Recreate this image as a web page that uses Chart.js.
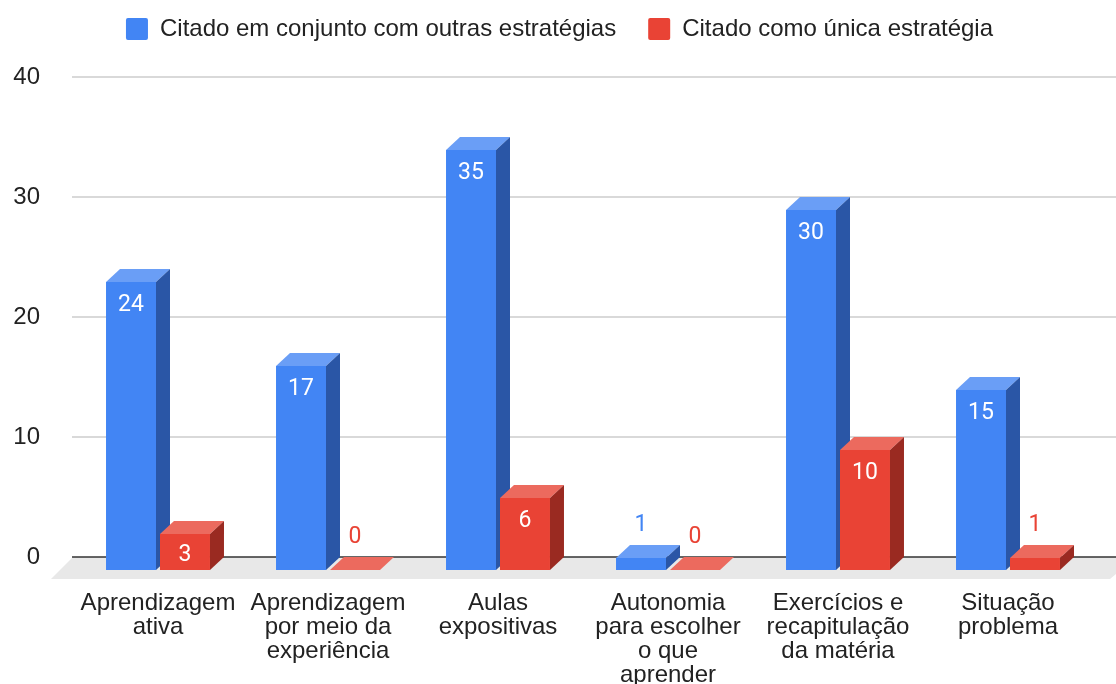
<!DOCTYPE html>
<html>
<head>
<meta charset="utf-8">
<script src="https://cdn.jsdelivr.net/npm/chart.js@4.4.1/dist/chart.umd.min.js"></script>
<style>
  html, body { margin: 0; padding: 0; background: #fff; }
</style>
</head>
<body>
<canvas id="chart" width="1116" height="684"></canvas>
<script>
// data
categories = [
	["Aprendizagem", "ativa"],
	["Aprendizagem", "por meio da", "experiência"],
	["Aulas", "expositivas"],
	["Autonomia", "para escolher", "o que", "aprender"],
	["Exercícios e", "recapitulação", "da matéria"],
	["Situação", "problema"]
]
seriesNames = ["Citado em conjunto com outras estratégias", "Citado como única estratégia"]
conjunto = [24, 17, 35, 1, 30, 15]
unica = [3, 0, 6, 0, 10, 1]
yTicks = [0, 10, 20, 30, 40]

// look of the 3d boxes
faceColors = [
	{front: "#4285f4", top: "#6a9ef6", side: "#2a56a6"},
	{front: "#e94335", top: "#ec6a5e", side: "#9a2a21"}
]
DX = 14   // depth to the right
DY = 13   // depth upwards

function box(ctx, l, r, t, b, c) {
	// front
	ctx.fillStyle = c.front
	ctx.fillRect(l, t, r - l, b - t)
	// top
	ctx.fillStyle = c.top
	ctx.beginPath()
	ctx.moveTo(l, t); ctx.lineTo(l + DX, t - DY); ctx.lineTo(r + DX, t - DY); ctx.lineTo(r, t)
	ctx.closePath(); ctx.fill()
	// side
	if (b > t) {
		ctx.fillStyle = c.side
		ctx.beginPath()
		ctx.moveTo(r, t); ctx.lineTo(r + DX, t - DY); ctx.lineTo(r + DX, b - DY); ctx.lineTo(r, b)
		ctx.closePath(); ctx.fill()
	}
}

var draw3d = {
	id: "draw3d",
	beforeDatasetsDraw(chart) {
		var ctx = chart.ctx
		var y = chart.scales.y
		var area = chart.chartArea
		ctx.save()

		// grid on the back wall
		ctx.strokeStyle = "#cccccc"
		ctx.lineWidth = 1.5
		yTicks.forEach(function (v) {
			if (v === 0) return
			var py = y.getPixelForValue(v)
			ctx.beginPath(); ctx.moveTo(area.left - 1, py); ctx.lineTo(chart.width, py); ctx.stroke()
		})

		// floor
		var y0 = y.getPixelForValue(0)
		ctx.fillStyle = "#e8e8e8"
		ctx.beginPath()
		ctx.moveTo(area.left, y0)
		ctx.lineTo(chart.width + 20, y0)
		ctx.lineTo(chart.width - 6, y0 + 22)
		ctx.lineTo(area.left - 22, y0 + 22)
		ctx.closePath(); ctx.fill()

		ctx.strokeStyle = "#333333"
		ctx.lineWidth = 1.5
		ctx.beginPath(); ctx.moveTo(area.left - 1, y0); ctx.lineTo(chart.width, y0); ctx.stroke()

		// bars, category by category so nearer faces cover the ones behind
		var metas = [chart.getDatasetMeta(0), chart.getDatasetMeta(1)]
		for (var i = 0; i < categories.length; i++) {
			for (var d = 0; d < 2; d++) {
				var el = metas[d].data[i]
				var l = el.x - el.width / 2, r = el.x + el.width / 2
				var t = el.y + DY, b = el.base + DY
				box(ctx, l, r, t, b, faceColors[d])
			}
		}

		// value labels
		ctx.font = "23px Roboto"
		ctx.textAlign = "center"
		ctx.textBaseline = "middle"
		for (var i = 0; i < categories.length; i++) {
			for (var d = 0; d < 2; d++) {
				var el = metas[d].data[i]
				var v = chart.data.datasets[d].data[i]
				var t = el.y + DY, b = el.base + DY
				if (b - t >= 30) {
					ctx.fillStyle = "#ffffff"
					ctx.fillText(String(v), el.x, Math.min(t + 23, (t + b) / 2 + 3))
				} else {
					ctx.fillStyle = faceColors[d].front
					ctx.fillText(String(v), el.x, t - 33)
				}
			}
		}
		ctx.restore()
		return false
	}
}

// legend: reserve room down to the top gridline and nudge it right a little
var legendSpace = {
	id: "legendSpace",
	afterInit(chart) {
		var lg = chart.legend
		var fit = lg.fit
		lg.fit = function () { fit.call(this); this.height = 92 }
		var draw = lg.draw
		lg.draw = function () {
			this.ctx.save()
			this.ctx.translate(13, 0)
			draw.apply(this, arguments)
			this.ctx.restore()
		}
	}
}

var chrt = document.getElementById("chart").getContext("2d")
var chartId = new Chart(chrt, {
	type: "bar",
	data: {
		labels: categories,
		datasets: [
			{label: seriesNames[0], data: conjunto, backgroundColor: faceColors[0].front},
			{label: seriesNames[1], data: unica, backgroundColor: faceColors[1].front}
		]
	},
	options: {
		responsive: false,
		animation: false,
		categoryPercentage: 0.635,
		barPercentage: 0.926,
		layout: {padding: {top: -15, right: 23, bottom: 0, left: 0}},
		plugins: {
			legend: {
				position: "top",
				labels: {
					font: {family: "Arial, 'Liberation Sans'", size: 24},
					color: "#222222",
					boxWidth: 22,
					boxHeight: 22,
					padding: 32,
					useBorderRadius: true,
					borderRadius: 2
				}
			},
			tooltip: {enabled: false}
		},
		scales: {
			x: {
				grid: {display: false, drawTicks: false},
				border: {display: false},
				ticks: {
					font: {family: "Arial, 'Liberation Sans'", size: 24, lineHeight: 1},
					color: "#222222",
					padding: 34,
					autoSkip: false,
					maxRotation: 0
				},
				afterFit: function (scale) { scale.height = 127 }
			},
			y: {
				min: 0,
				max: 40,
				grid: {display: false, drawTicks: false},
				border: {display: false},
				ticks: {
					stepSize: 10,
					font: {family: "Arial, 'Liberation Sans'", size: 24},
					color: "#222222",
					padding: 33
				},
				afterFit: function (scale) { scale.width = 73 }
			}
		}
	},
	plugins: [draw3d, legendSpace]
})
</script>
</body>
</html>
